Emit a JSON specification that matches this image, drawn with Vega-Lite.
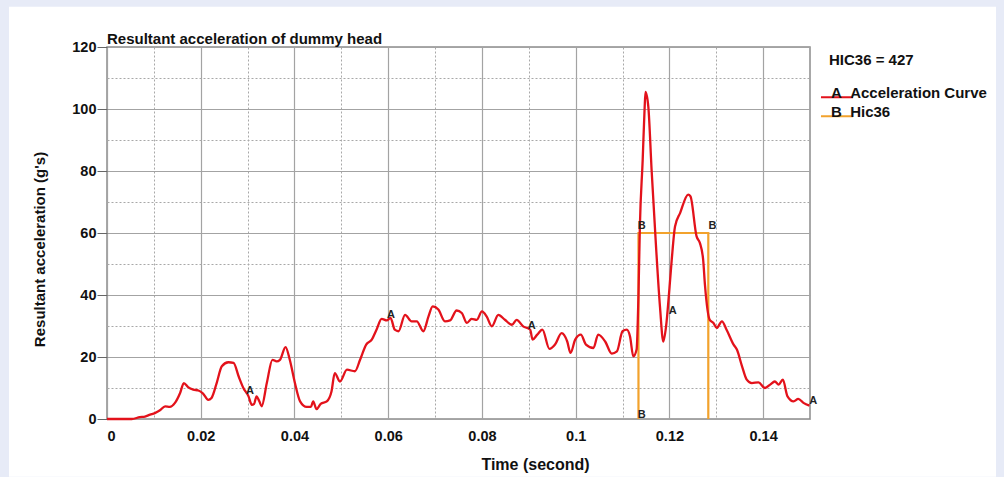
{
  "$schema": "https://vega.github.io/schema/vega-lite/v6.json",
  "autosize": {"type": "none"},
  "padding": {"left": 107, "top": 47, "right": 194, "bottom": 58},
  "width": 703,
  "height": 372,
  "background": "#ffffff",
  "config": {
    "font": "Liberation Sans",
    "view": {"stroke": "#8c8c8c", "strokeWidth": 1.5},
    "axis": {"domain": false, "labelFontWeight": "bold", "labelColor": "#111111", "titleColor": "#111111", "titleFontWeight": "bold"}
  },
  "title": {"text": "Resultant acceleration of dummy head", "anchor": "start", "frame": "group", "fontSize": 15, "fontWeight": "bold", "baseline": "alphabetic", "offset": 4, "dy": 96, "color": "#111111"},
  "datasets": {
    "frame": [{"x1": -0.02518, "x2": 0.19395, "y1": -25.06, "y2": 139.45}],
    "hic": [
      {"t": 0.1134, "g": 0, "o": 1, "series": "Hic36"},
      {"t": 0.1134, "g": 60, "o": 2, "series": "Hic36"},
      {"t": 0.1283, "g": 60, "o": 3, "series": "Hic36"},
      {"t": 0.1283, "g": 0, "o": 4, "series": "Hic36"}
    ],
    "accel": [
      {"t": 0, "g": 0}, {"t": 0.0053, "g": 0}, {"t": 0.007, "g": 0.6}, {"t": 0.0081, "g": 0.8}, {"t": 0.0092, "g": 1.4},
      {"t": 0.0102, "g": 1.9}, {"t": 0.0113, "g": 2.8}, {"t": 0.0124, "g": 4.1}, {"t": 0.0134, "g": 3.9}, {"t": 0.0145, "g": 5.2},
      {"t": 0.0156, "g": 8.4}, {"t": 0.0164, "g": 11.6}, {"t": 0.0173, "g": 10.3}, {"t": 0.0184, "g": 9.5}, {"t": 0.0195, "g": 9.2},
      {"t": 0.0205, "g": 8.2}, {"t": 0.0216, "g": 6.2}, {"t": 0.0223, "g": 6.8}, {"t": 0.0234, "g": 11.6}, {"t": 0.0245, "g": 17.0},
      {"t": 0.0259, "g": 18.3}, {"t": 0.027, "g": 18.1}, {"t": 0.0281, "g": 13.7}, {"t": 0.0291, "g": 10.0}, {"t": 0.0302, "g": 7.3},
      {"t": 0.0309, "g": 4.6}, {"t": 0.0314, "g": 4.9}, {"t": 0.0319, "g": 7.3}, {"t": 0.0325, "g": 5.7}, {"t": 0.033, "g": 4.1},
      {"t": 0.0341, "g": 11.6}, {"t": 0.0353, "g": 19.1}, {"t": 0.0362, "g": 18.6}, {"t": 0.0369, "g": 19.1}, {"t": 0.0381, "g": 23.2},
      {"t": 0.039, "g": 19.1}, {"t": 0.0401, "g": 11.6}, {"t": 0.0412, "g": 5.7}, {"t": 0.0426, "g": 3.9}, {"t": 0.0435, "g": 3.9},
      {"t": 0.044, "g": 5.7}, {"t": 0.0447, "g": 3.2}, {"t": 0.0456, "g": 4.9}, {"t": 0.0469, "g": 5.7}, {"t": 0.0479, "g": 8.9},
      {"t": 0.0486, "g": 14.8}, {"t": 0.0497, "g": 12.1}, {"t": 0.0512, "g": 15.9}, {"t": 0.0529, "g": 15.4}, {"t": 0.054, "g": 19.1},
      {"t": 0.0553, "g": 24.0}, {"t": 0.0565, "g": 25.6}, {"t": 0.0575, "g": 28.8}, {"t": 0.0586, "g": 32.3}, {"t": 0.0597, "g": 31.8},
      {"t": 0.0605, "g": 32.6}, {"t": 0.0614, "g": 28.8}, {"t": 0.0622, "g": 28.3}, {"t": 0.0636, "g": 33.6}, {"t": 0.065, "g": 31.5},
      {"t": 0.0661, "g": 31.5}, {"t": 0.0675, "g": 28.3}, {"t": 0.0686, "g": 33.1}, {"t": 0.0695, "g": 36.3}, {"t": 0.0707, "g": 35.3},
      {"t": 0.0721, "g": 31.5}, {"t": 0.0732, "g": 31.8}, {"t": 0.0746, "g": 35.0}, {"t": 0.0757, "g": 34.2}, {"t": 0.0768, "g": 31.0},
      {"t": 0.0778, "g": 32.3}, {"t": 0.0789, "g": 32.0}, {"t": 0.08, "g": 34.7}, {"t": 0.081, "g": 33.1}, {"t": 0.0821, "g": 29.9},
      {"t": 0.0835, "g": 33.6}, {"t": 0.0849, "g": 32.0}, {"t": 0.0864, "g": 30.4}, {"t": 0.0874, "g": 32.0}, {"t": 0.0888, "g": 29.9},
      {"t": 0.0903, "g": 28.8}, {"t": 0.0908, "g": 25.6}, {"t": 0.0918, "g": 27.2}, {"t": 0.0929, "g": 28.8}, {"t": 0.0944, "g": 22.6},
      {"t": 0.0956, "g": 24.0}, {"t": 0.097, "g": 27.7}, {"t": 0.0982, "g": 25.0}, {"t": 0.0989, "g": 21.3}, {"t": 0.0999, "g": 25.6},
      {"t": 0.1011, "g": 27.2}, {"t": 0.1022, "g": 24.0}, {"t": 0.1038, "g": 22.9}, {"t": 0.1048, "g": 27.2}, {"t": 0.1063, "g": 25.0},
      {"t": 0.1077, "g": 21.1}, {"t": 0.1088, "g": 21.8}, {"t": 0.11, "g": 28.3}, {"t": 0.1109, "g": 28.8}, {"t": 0.1116, "g": 26.6},
      {"t": 0.1123, "g": 20.2}, {"t": 0.113, "g": 22.4}, {"t": 0.1134, "g": 40.0}, {"t": 0.1137, "g": 62.1}, {"t": 0.1143, "g": 83.6},
      {"t": 0.1147, "g": 99.8}, {"t": 0.1149, "g": 105.5}, {"t": 0.1155, "g": 100.8}, {"t": 0.1162, "g": 80.4}, {"t": 0.1171, "g": 56.8},
      {"t": 0.118, "g": 36.0}, {"t": 0.1187, "g": 25.0}, {"t": 0.1193, "g": 30.0}, {"t": 0.12, "g": 42.0}, {"t": 0.1205, "g": 51.4},
      {"t": 0.1212, "g": 62.1}, {"t": 0.1223, "g": 66.5}, {"t": 0.124, "g": 72.4}, {"t": 0.1245, "g": 71.8}, {"t": 0.1258, "g": 58.9},
      {"t": 0.1265, "g": 56.8}, {"t": 0.1272, "g": 51.4}, {"t": 0.1276, "g": 43.0}, {"t": 0.1286, "g": 32.0}, {"t": 0.1294, "g": 31.0},
      {"t": 0.1301, "g": 29.4}, {"t": 0.1312, "g": 31.5}, {"t": 0.1322, "g": 28.8}, {"t": 0.1337, "g": 24.0}, {"t": 0.1344, "g": 22.4},
      {"t": 0.1355, "g": 17.0}, {"t": 0.1365, "g": 12.7}, {"t": 0.1376, "g": 11.6}, {"t": 0.139, "g": 11.8}, {"t": 0.1404, "g": 10.0},
      {"t": 0.1415, "g": 11.1}, {"t": 0.1425, "g": 12.1}, {"t": 0.1433, "g": 11.1}, {"t": 0.1442, "g": 12.7}, {"t": 0.1452, "g": 7.3},
      {"t": 0.1465, "g": 5.7}, {"t": 0.1475, "g": 6.5}, {"t": 0.1486, "g": 5.2}, {"t": 0.1499, "g": 4.3}
    ],
    "labels": [
      {"t": 0.0305, "g": 8.9, "label": "A"},
      {"t": 0.0606, "g": 33.4, "label": "A"},
      {"t": 0.0906, "g": 29.9, "label": "A"},
      {"t": 0.1207, "g": 34.9, "label": "A"},
      {"t": 0.1507, "g": 5.7, "label": "A"},
      {"t": 0.1141, "g": 1.4, "label": "B"},
      {"t": 0.1141, "g": 62.1, "label": "B"},
      {"t": 0.1292, "g": 62.1, "label": "B"}
    ]
  },
  "resolve": {"axis": {"x": "independent", "y": "independent"}},
  "layer": [
    {
      "data": {"name": "frame"},
      "mark": {"type": "rect", "filled": false, "stroke": "#e7ebf7", "strokeWidth": 40},
      "encoding": {
        "x": {"field": "x1", "type": "quantitative", "scale": {"domain": [0, 0.15]}, "axis": null},
        "x2": {"field": "x2"},
        "y": {"field": "y1", "type": "quantitative", "scale": {"domain": [0, 120]}, "axis": null},
        "y2": {"field": "y2"}
      }
    },
    {
      "data": {"name": "hic"},
      "mark": {"type": "line", "strokeWidth": 2.2},
      "encoding": {
        "x": {"field": "t", "type": "quantitative", "scale": {"domain": [0, 0.15]},
          "axis": {"orient": "bottom", "values": [0, 0.02, 0.04, 0.06, 0.08, 0.1, 0.12, 0.14], "format": ".2~f", "grid": true, "gridColor": "#a3a3a3", "gridWidth": 1.2, "ticks": false, "labelPadding": 10, "labelFontSize": 14.5, "title": "Time (second)", "titleFontSize": 16, "titleX": 428, "titleY": 50, "titleBaseline": "alphabetic"}},
        "y": {"field": "g", "type": "quantitative", "scale": {"domain": [0, 120]},
          "axis": {"orient": "left", "values": [0, 20, 40, 60, 80, 100, 120], "grid": true, "gridColor": "#a3a3a3", "gridWidth": 1.2, "ticks": true, "tickSize": 10, "tickColor": "#666666", "labelPadding": 1, "labelFontSize": 14.5, "title": "Resultant acceleration (g's)", "titleFontSize": 15, "titleX": -60, "titleY": 202, "titleBaseline": "bottom"}},
        "order": {"field": "o", "type": "quantitative"},
        "color": {"field": "series", "type": "nominal",
          "scale": {"domain": ["Acceleration Curve", "Hic36"], "range": ["#e3121b", "#f2a22c"]},
          "legend": {"orient": "none", "legendX": 722, "legendY": 6, "title": "HIC36 = 427", "titleFontSize": 15, "titleFontWeight": "bold", "titleColor": "#111111", "titlePadding": 17,
            "symbolType": "M-2.29,0.6L2.29,0.6", "symbolSize": 196, "symbolStrokeWidth": 2, "labelFontSize": 15, "labelFontWeight": "bold", "labelColor": "#111111", "labelOffset": -14, "rowPadding": 2,
            "labelExpr": "datum.label == 'Hic36' ? 'B\u00a0\u00a0Hic36' : 'A\u00a0\u00a0Acceleration Curve'"}}
      }
    },
    {
      "data": {"name": "accel"},
      "transform": [{"calculate": "'Acceleration Curve'", "as": "series"}],
      "mark": {"type": "line", "strokeWidth": 2.3, "interpolate": "monotone"},
      "encoding": {
        "x": {"field": "t", "type": "quantitative", "scale": {"domain": [0, 0.15]},
          "axis": {"orient": "bottom", "values": [0.01, 0.03, 0.05, 0.07, 0.09, 0.11, 0.13], "grid": true, "gridColor": "#a8a8a8", "gridDash": [2, 2], "gridWidth": 1, "ticks": false, "labels": false, "title": null}},
        "y": {"field": "g", "type": "quantitative", "scale": {"domain": [0, 120]},
          "axis": {"orient": "left", "values": [10, 30, 50, 70, 90, 110], "grid": true, "gridColor": "#a8a8a8", "gridDash": [2, 2], "gridWidth": 1, "ticks": false, "labels": false, "title": null}},
        "color": {"field": "series", "type": "nominal",
          "scale": {"domain": ["Acceleration Curve", "Hic36"], "range": ["#e3121b", "#f2a22c"]}}
      }
    },
    {
      "data": {"name": "labels"},
      "mark": {"type": "text", "fontSize": 11, "fontWeight": "bold", "color": "#222222", "align": "center", "baseline": "middle"},
      "encoding": {
        "x": {"field": "t", "type": "quantitative", "scale": {"domain": [0, 0.15]}, "axis": null},
        "y": {"field": "g", "type": "quantitative", "scale": {"domain": [0, 120]}, "axis": null},
        "text": {"field": "label"}
      }
    }
  ]
}
